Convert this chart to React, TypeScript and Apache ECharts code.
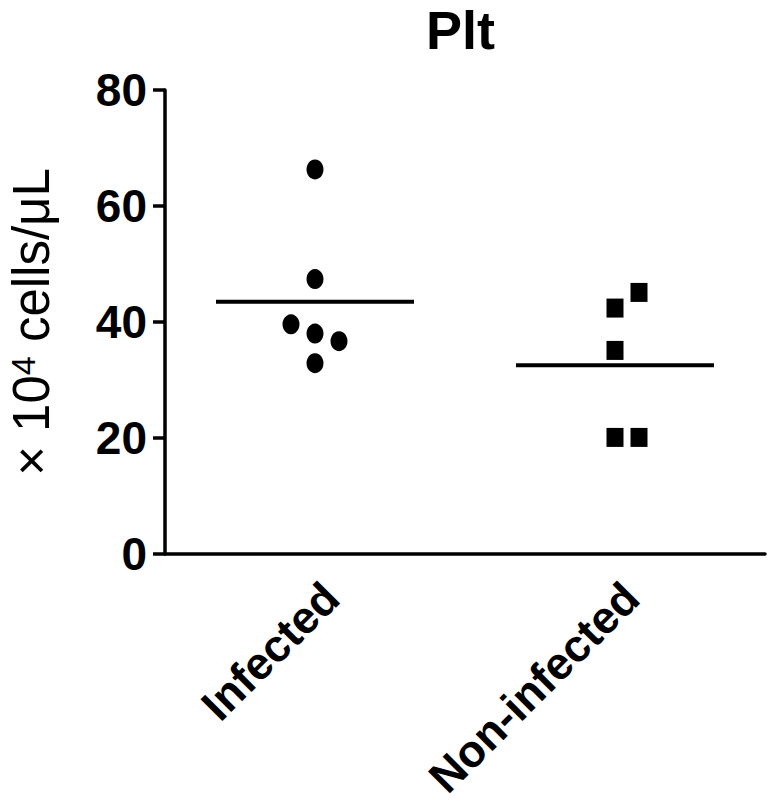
import React, { useEffect, useRef } from "react";
import * as echarts from "echarts";

const categories = ["Infected", "Non-infected"];
const infectedValues = [66.3, 47.4, 39.6, 38.0, 36.7, 32.9];
const infectedJitter = [0, 0, -0.08, 0, 0.08, 0];
const nonInfectedValues = [42.4, 45.1, 35.1, 20.1, 20.1];
const nonInfectedJitter = [0, 0.08, 0, 0, 0.08];
const yTicks = [0, 20, 40, 60, 80];

const FONT = "Liberation Sans, Arial, sans-serif";

const mean = (a: number[]) => a.reduce((s, v) => s + v, 0) / a.length;

export default function App() {
  const ref = useRef<HTMLDivElement>(null);
  useEffect(() => {
    if (!ref.current) return;
    const chart = echarts.init(ref.current, undefined, { renderer: "svg" });
    const half = 0.33;
    const mInf = mean(infectedValues);
    const mNon = mean(nonInfectedValues);
    chart.setOption({
      animation: false,
      backgroundColor: "#ffffff",
      title: {
        text: "Plt",
        left: 426,
        top: 2,
        padding: 0,
        textStyle: { fontFamily: FONT, fontSize: 54, lineHeight: 56, fontWeight: "bold", color: "#000" },
      },
      grid: {
        left: 165,
        right: 5,
        top: 90,
        bottom: 249,
        containLabel: false,
        outerBoundsMode: "none",
      },
      xAxis: [
        {
          type: "category",
          data: categories,
          boundaryGap: true,
          axisLine: { lineStyle: { color: "#000", width: 3.5 } },
          axisTick: { alignWithLabel: true, length: 12, lineStyle: { color: "#000", width: 3.5 } },
          axisLabel: {
            interval: 0,
            rotate: 45,
            margin: 20,
            verticalAlign: "top",
            align: "right",
            fontFamily: FONT,
            fontSize: 45,
            lineHeight: 46,
            fontWeight: "bold",
            color: "#000",
          },
          splitLine: { show: false },
        },
        {
          type: "value",
          min: -0.5,
          max: 1.5,
          show: false,
        },
      ],
      yAxis: {
        type: "value",
        min: yTicks[0],
        max: yTicks[yTicks.length - 1],
        interval: 20,
        name: "{n|× 10}{s|4}{n| cells/μL}",
        nameLocation: "middle",
        nameGap: 108,
        nameTextStyle: {
          fontFamily: FONT,
          fontSize: 51,
          color: "#000",
          rich: {
            n: { fontFamily: FONT, fontSize: 51, color: "#000" },
            s: { fontFamily: FONT, fontSize: 34, color: "#000", verticalAlign: "top" },
          },
        },
        axisLine: { show: true, onZero: false, lineStyle: { color: "#000", width: 3.5 } },
        axisTick: { show: true, length: 12, lineStyle: { color: "#000", width: 3.5 } },
        axisLabel: { margin: 18, fontFamily: FONT, fontSize: 46, fontWeight: "bold", color: "#000" },
        splitLine: { show: false },
      },
      series: [
        {
          type: "scatter",
          xAxisIndex: 1,
          symbol: "circle",
          symbolSize: [17, 20],
          itemStyle: { color: "#000", opacity: 1 },
          data: infectedValues.map((v, i) => [0 + infectedJitter[i], v]),
        },
        {
          type: "scatter",
          xAxisIndex: 1,
          symbol: "rect",
          symbolSize: [17, 19],
          itemStyle: { color: "#000", opacity: 1 },
          data: nonInfectedValues.map((v, i) => [1 + nonInfectedJitter[i], v]),
        },
        {
          type: "line",
          xAxisIndex: 1,
          symbol: "none",
          lineStyle: { color: "#000", width: 4 },
          data: [
            [0 - half, mInf],
            [0 + half, mInf],
          ],
        },
        {
          type: "line",
          xAxisIndex: 1,
          symbol: "none",
          lineStyle: { color: "#000", width: 4 },
          data: [
            [1 - half, mNon],
            [1 + half, mNon],
          ],
        },
      ],
    });
    return () => chart.dispose();
  }, []);
  return (
    <div
      ref={ref}
      style={{ position: "fixed", left: 0, top: 0, width: 770, height: 803, background: "#fff" }}
    />
  );
}
